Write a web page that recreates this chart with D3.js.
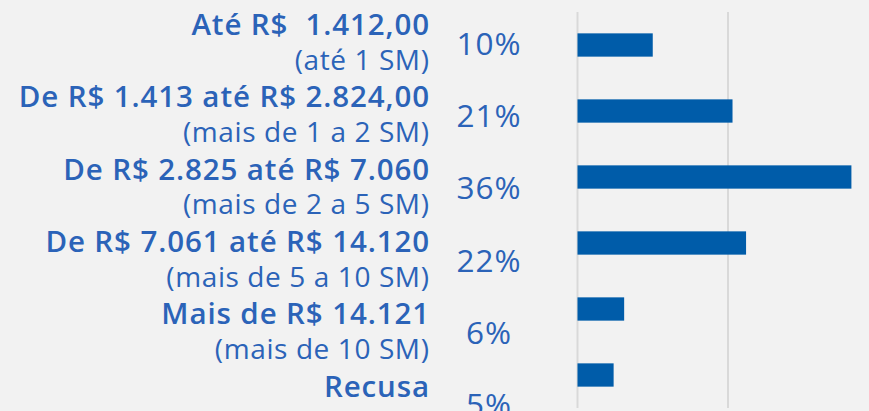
<!DOCTYPE html>
<html>
<head>
<meta charset="utf-8">
<script src="https://cdn.jsdelivr.net/npm/d3@7"></script>
<style>
  html, body { margin: 0; padding: 0; background: #f2f2f2; }
  svg { display: block; font-family: "Open Sans", Lato, sans-serif; }
</style>
</head>
<body>
<script>
// faixas de renda
var categories = ["ate1", "1a2", "2a5", "5a10", "mais10", "recusa"];
var labelMain = ["Até R$  1.412,00", "De R$ 1.413 até R$ 2.824,00", "De R$ 2.825 até R$ 7.060",
                 "De R$ 7.061 até R$ 14.120", "Mais de R$ 14.121", "Recusa"];
var labelSub = ["(até 1 SM)", "(mais de 1 a 2 SM)", "(mais de 2 a 5 SM)",
                "(mais de 5 a 10 SM)", "(mais de 10 SM)", ""];
var values = [10.0, 20.6, 36.4, 22.4, 6.2, 4.8];
var ticks = [0, 20, 40];

var width = 869, height = 411,
    textColor = "#2b63b8",
    barColor = "#005ca9";

var svg = d3.select("body").append("svg")
    .attr("width", width)
    .attr("height", height);

var x = d3.scaleLinear()
    .domain([0, 40])
    .range([577.5, 878.5]);

var y = d3.scaleBand()
    .domain(categories)
    .range([12, 408])
    .paddingInner(0.647)
    .paddingOuter(0.3235);

// the text column has its own row spacing
var row = d3.scalePoint()
    .domain(categories)
    .range([35, 396.7]);

// gridlines
svg.append("g").selectAll("line")
    .data(ticks)
    .enter().append("line")
    .attr("x1", function (d) { return x(d); })
    .attr("x2", function (d) { return x(d); })
    .attr("y1", 12)
    .attr("y2", 408)
    .style("stroke", "#d9d9d9")
    .style("stroke-width", 2);

// bars
svg.append("g").selectAll("rect")
    .data(values)
    .enter().append("rect")
    .attr("x", x(0))
    .attr("y", function (d, i) { return y(categories[i]); })
    .attr("width", function (d) { return x(d) - x(0); })
    .attr("height", y.bandwidth())
    .style("fill", barColor);

// category labels
var lab = svg.append("g")
    .attr("text-anchor", "end")
    .style("fill", textColor);

lab.selectAll("text.main")
    .data(labelMain)
    .enter().append("text")
    .attr("class", "main")
    .attr("x", 430)
    .attr("y", function (d, i) { return row(categories[i]); })
    .style("font-size", "29.5px")
    .style("font-weight", 600)
    .style("letter-spacing", "0.9px")
    .style("white-space", "pre")
    .text(function (d) { return d; });

lab.selectAll("text.sub")
    .data(labelSub)
    .enter().append("text")
    .attr("class", "sub")
    .attr("x", 429.5)
    .attr("y", function (d, i) { return row(categories[i]) + 34.5; })
    .style("font-size", "28px")
    .style("letter-spacing", "0.6px")
    .text(function (d) { return d; });

// percent labels
svg.append("g").selectAll("text")
    .data(values)
    .enter().append("text")
    .attr("x", 489)
    .attr("y", function (d, i) { return row(categories[i]) + 19.5; })
    .attr("text-anchor", "middle")
    .style("fill", textColor)
    .style("font-size", "31.5px")
    .style("letter-spacing", "1px")
    .text(function (d) { return Math.round(d) + "%"; });
</script>
</body>
</html>
